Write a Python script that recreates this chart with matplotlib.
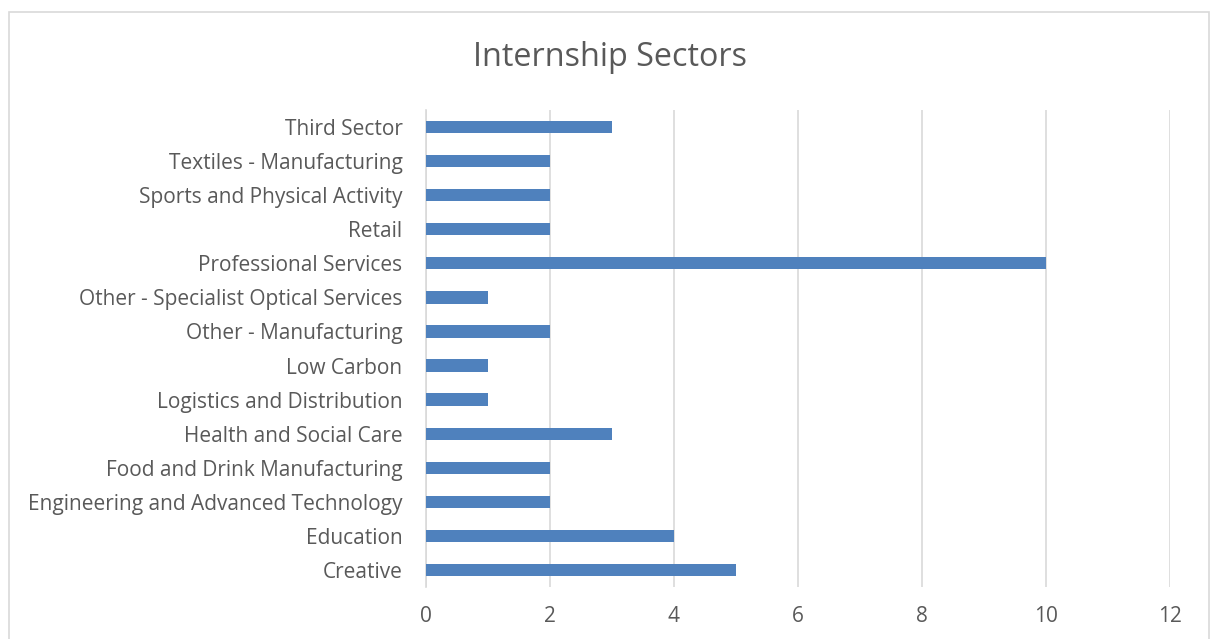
import matplotlib.pyplot as plt
from matplotlib.patches import Rectangle

# Sector names, bottom to top as drawn
sectors = [
    "Creative",
    "Education",
    "Engineering and Advanced Technology",
    "Food and Drink Manufacturing",
    "Health and Social Care",
    "Logistics and Distribution",
    "Low Carbon",
    "Other - Manufacturing",
    "Other - Specialist Optical Services",
    "Professional Services",
    "Retail",
    "Sports and Physical Activity",
    "Textiles - Manufacturing",
    "Third Sector",
]
counts = [5, 4, 2, 2, 3, 1, 1, 2, 1, 10, 2, 2, 2, 3]
x_ticks = [0, 2, 4, 6, 8, 10, 12]

text_color = "#595959"
bar_color = "#4F81BD"
grid_color = "#D9D9D9"

plt.rcParams['font.family'] = ['Open Sans', 'DejaVu Sans']

fig = plt.figure(figsize=(12.13, 6.39), dpi=100)
ax = fig.add_axes([426 / 1213, 1 - 587 / 639, (1170 - 426) / 1213, (587 - 110) / 639])

ax.barh(range(len(sectors)), counts, height=0.36, color=bar_color, zorder=3)

ax.set_xlim(0, 12)
ax.set_ylim(-0.5, len(sectors) - 0.5)
ax.set_xticks(x_ticks)
ax.set_yticks(range(len(sectors)))
ax.set_yticklabels(sectors)
ax.tick_params(axis='both', length=0, labelsize=15, colors=text_color)
ax.tick_params(axis='x', pad=14)
ax.tick_params(axis='y', pad=17)
ax.grid(axis='x', color=grid_color, linewidth=1.2, zorder=0)
for side in ['top', 'right', 'bottom']:
    ax.spines[side].set_visible(False)
ax.spines['left'].set_color(grid_color)
ax.spines['left'].set_linewidth(1.2)

fig.text(610 / 1213, 1 - 57 / 639, "Internship Sectors", ha='center', va='center',
         fontsize=23.3, color=text_color)

# chart border
fig.patches.append(Rectangle((9 / 1213, -0.1), (1209 - 9) / 1213, 1.1 - 12 / 639,
                             transform=fig.transFigure, fill=False,
                             edgecolor=grid_color, linewidth=1.2))

fig.savefig("out.png", dpi=100)
